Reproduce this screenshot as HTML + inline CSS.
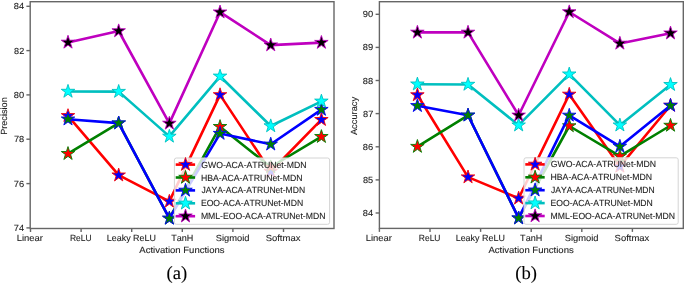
<!DOCTYPE html><html><head><meta charset="utf-8"><style>html,body{margin:0;padding:0;background:#fff;}svg{display:block;will-change:transform;width:685px;height:284px;}text{font-family:"Liberation Sans",sans-serif;font-kerning:none;text-rendering:geometricPrecision;stroke:#222;stroke-width:0.1px;}</style></head><body>
<svg width="685" height="284" viewBox="0 0 685 284">
<rect width="685" height="284" fill="#fff"/>
<clipPath id="c30"><rect x="30.2" y="1.7" width="303.8" height="226.8"/></clipPath>
<g clip-path="url(#c30)">
<polyline points="68.00,115.80 118.68,175.20 169.36,201.40 220.04,94.90 270.72,171.50 321.40,119.70" fill="none" stroke="#ff0000" stroke-width="2.6" stroke-linejoin="round" stroke-linecap="butt"/>
<path d="M68.00,108.70 L66.41,113.61 L61.25,113.61 L65.42,116.64 L63.83,121.54 L68.00,118.51 L72.17,121.54 L70.58,116.64 L74.75,113.61 L69.59,113.61 Z" fill="#0000ff" stroke="#ff0000" stroke-width="0.9" stroke-linejoin="bevel"/>
<path d="M118.68,168.10 L117.09,173.01 L111.93,173.01 L116.10,176.04 L114.51,180.94 L118.68,177.91 L122.85,180.94 L121.26,176.04 L125.43,173.01 L120.27,173.01 Z" fill="#0000ff" stroke="#ff0000" stroke-width="0.9" stroke-linejoin="bevel"/>
<path d="M169.36,194.30 L167.77,199.21 L162.61,199.21 L166.78,202.24 L165.19,207.14 L169.36,204.11 L173.53,207.14 L171.94,202.24 L176.11,199.21 L170.95,199.21 Z" fill="#0000ff" stroke="#ff0000" stroke-width="0.9" stroke-linejoin="bevel"/>
<path d="M220.04,87.80 L218.45,92.71 L213.29,92.71 L217.46,95.74 L215.87,100.64 L220.04,97.61 L224.21,100.64 L222.62,95.74 L226.79,92.71 L221.63,92.71 Z" fill="#0000ff" stroke="#ff0000" stroke-width="0.9" stroke-linejoin="bevel"/>
<path d="M270.72,164.40 L269.13,169.31 L263.97,169.31 L268.14,172.34 L266.55,177.24 L270.72,174.21 L274.89,177.24 L273.30,172.34 L277.47,169.31 L272.31,169.31 Z" fill="#0000ff" stroke="#ff0000" stroke-width="0.9" stroke-linejoin="bevel"/>
<path d="M321.40,112.60 L319.81,117.51 L314.65,117.51 L318.82,120.54 L317.23,125.44 L321.40,122.41 L325.57,125.44 L323.98,120.54 L328.15,117.51 L322.99,117.51 Z" fill="#0000ff" stroke="#ff0000" stroke-width="0.9" stroke-linejoin="bevel"/>
<polyline points="68.00,153.70 118.68,123.10 169.36,218.40 220.04,126.70 270.72,167.00 321.40,136.70" fill="none" stroke="#008000" stroke-width="2.6" stroke-linejoin="round" stroke-linecap="butt"/>
<path d="M68.00,146.60 L66.41,151.51 L61.25,151.51 L65.42,154.54 L63.83,159.44 L68.00,156.41 L72.17,159.44 L70.58,154.54 L74.75,151.51 L69.59,151.51 Z" fill="#ff0000" stroke="#008000" stroke-width="0.9" stroke-linejoin="bevel"/>
<path d="M118.68,116.00 L117.09,120.91 L111.93,120.91 L116.10,123.94 L114.51,128.84 L118.68,125.81 L122.85,128.84 L121.26,123.94 L125.43,120.91 L120.27,120.91 Z" fill="#ff0000" stroke="#008000" stroke-width="0.9" stroke-linejoin="bevel"/>
<path d="M169.36,211.30 L167.77,216.21 L162.61,216.21 L166.78,219.24 L165.19,224.14 L169.36,221.11 L173.53,224.14 L171.94,219.24 L176.11,216.21 L170.95,216.21 Z" fill="#ff0000" stroke="#008000" stroke-width="0.9" stroke-linejoin="bevel"/>
<path d="M220.04,119.60 L218.45,124.51 L213.29,124.51 L217.46,127.54 L215.87,132.44 L220.04,129.41 L224.21,132.44 L222.62,127.54 L226.79,124.51 L221.63,124.51 Z" fill="#ff0000" stroke="#008000" stroke-width="0.9" stroke-linejoin="bevel"/>
<path d="M270.72,159.90 L269.13,164.81 L263.97,164.81 L268.14,167.84 L266.55,172.74 L270.72,169.71 L274.89,172.74 L273.30,167.84 L277.47,164.81 L272.31,164.81 Z" fill="#ff0000" stroke="#008000" stroke-width="0.9" stroke-linejoin="bevel"/>
<path d="M321.40,129.60 L319.81,134.51 L314.65,134.51 L318.82,137.54 L317.23,142.44 L321.40,139.41 L325.57,142.44 L323.98,137.54 L328.15,134.51 L322.99,134.51 Z" fill="#ff0000" stroke="#008000" stroke-width="0.9" stroke-linejoin="bevel"/>
<polyline points="68.00,119.20 118.68,123.10 169.36,218.40 220.04,133.60 270.72,144.30 321.40,109.60" fill="none" stroke="#0000ff" stroke-width="2.6" stroke-linejoin="round" stroke-linecap="butt"/>
<path d="M68.00,112.10 L66.41,117.01 L61.25,117.01 L65.42,120.04 L63.83,124.94 L68.00,121.91 L72.17,124.94 L70.58,120.04 L74.75,117.01 L69.59,117.01 Z" fill="#008000" stroke="#0000ff" stroke-width="0.9" stroke-linejoin="bevel"/>
<path d="M118.68,116.00 L117.09,120.91 L111.93,120.91 L116.10,123.94 L114.51,128.84 L118.68,125.81 L122.85,128.84 L121.26,123.94 L125.43,120.91 L120.27,120.91 Z" fill="#008000" stroke="#0000ff" stroke-width="0.9" stroke-linejoin="bevel"/>
<path d="M169.36,211.30 L167.77,216.21 L162.61,216.21 L166.78,219.24 L165.19,224.14 L169.36,221.11 L173.53,224.14 L171.94,219.24 L176.11,216.21 L170.95,216.21 Z" fill="#008000" stroke="#0000ff" stroke-width="0.9" stroke-linejoin="bevel"/>
<path d="M220.04,126.50 L218.45,131.41 L213.29,131.41 L217.46,134.44 L215.87,139.34 L220.04,136.31 L224.21,139.34 L222.62,134.44 L226.79,131.41 L221.63,131.41 Z" fill="#008000" stroke="#0000ff" stroke-width="0.9" stroke-linejoin="bevel"/>
<path d="M270.72,137.20 L269.13,142.11 L263.97,142.11 L268.14,145.14 L266.55,150.04 L270.72,147.01 L274.89,150.04 L273.30,145.14 L277.47,142.11 L272.31,142.11 Z" fill="#008000" stroke="#0000ff" stroke-width="0.9" stroke-linejoin="bevel"/>
<path d="M321.40,102.50 L319.81,107.41 L314.65,107.41 L318.82,110.44 L317.23,115.34 L321.40,112.31 L325.57,115.34 L323.98,110.44 L328.15,107.41 L322.99,107.41 Z" fill="#008000" stroke="#0000ff" stroke-width="0.9" stroke-linejoin="bevel"/>
<polyline points="68.00,91.50 118.68,91.60 169.36,136.40 220.04,76.30 270.72,126.00 321.40,101.30" fill="none" stroke="#00bfbf" stroke-width="2.6" stroke-linejoin="round" stroke-linecap="butt"/>
<path d="M68.00,84.40 L66.41,89.31 L61.25,89.31 L65.42,92.34 L63.83,97.24 L68.00,94.21 L72.17,97.24 L70.58,92.34 L74.75,89.31 L69.59,89.31 Z" fill="#00ffff" stroke="#00bfbf" stroke-width="0.9" stroke-linejoin="bevel"/>
<path d="M118.68,84.50 L117.09,89.41 L111.93,89.41 L116.10,92.44 L114.51,97.34 L118.68,94.31 L122.85,97.34 L121.26,92.44 L125.43,89.41 L120.27,89.41 Z" fill="#00ffff" stroke="#00bfbf" stroke-width="0.9" stroke-linejoin="bevel"/>
<path d="M169.36,129.30 L167.77,134.21 L162.61,134.21 L166.78,137.24 L165.19,142.14 L169.36,139.11 L173.53,142.14 L171.94,137.24 L176.11,134.21 L170.95,134.21 Z" fill="#00ffff" stroke="#00bfbf" stroke-width="0.9" stroke-linejoin="bevel"/>
<path d="M220.04,69.20 L218.45,74.11 L213.29,74.11 L217.46,77.14 L215.87,82.04 L220.04,79.01 L224.21,82.04 L222.62,77.14 L226.79,74.11 L221.63,74.11 Z" fill="#00ffff" stroke="#00bfbf" stroke-width="0.9" stroke-linejoin="bevel"/>
<path d="M270.72,118.90 L269.13,123.81 L263.97,123.81 L268.14,126.84 L266.55,131.74 L270.72,128.71 L274.89,131.74 L273.30,126.84 L277.47,123.81 L272.31,123.81 Z" fill="#00ffff" stroke="#00bfbf" stroke-width="0.9" stroke-linejoin="bevel"/>
<path d="M321.40,94.20 L319.81,99.11 L314.65,99.11 L318.82,102.14 L317.23,107.04 L321.40,104.01 L325.57,107.04 L323.98,102.14 L328.15,99.11 L322.99,99.11 Z" fill="#00ffff" stroke="#00bfbf" stroke-width="0.9" stroke-linejoin="bevel"/>
<polyline points="68.00,42.40 118.68,31.00 169.36,123.40 220.04,12.20 270.72,45.10 321.40,42.60" fill="none" stroke="#bf00bf" stroke-width="2.6" stroke-linejoin="round" stroke-linecap="butt"/>
<path d="M68.00,35.30 L66.41,40.21 L61.25,40.21 L65.42,43.24 L63.83,48.14 L68.00,45.11 L72.17,48.14 L70.58,43.24 L74.75,40.21 L69.59,40.21 Z" fill="#000000" stroke="#bf00bf" stroke-width="0.9" stroke-linejoin="bevel"/>
<path d="M118.68,23.90 L117.09,28.81 L111.93,28.81 L116.10,31.84 L114.51,36.74 L118.68,33.71 L122.85,36.74 L121.26,31.84 L125.43,28.81 L120.27,28.81 Z" fill="#000000" stroke="#bf00bf" stroke-width="0.9" stroke-linejoin="bevel"/>
<path d="M169.36,116.30 L167.77,121.21 L162.61,121.21 L166.78,124.24 L165.19,129.14 L169.36,126.11 L173.53,129.14 L171.94,124.24 L176.11,121.21 L170.95,121.21 Z" fill="#000000" stroke="#bf00bf" stroke-width="0.9" stroke-linejoin="bevel"/>
<path d="M220.04,5.10 L218.45,10.01 L213.29,10.01 L217.46,13.04 L215.87,17.94 L220.04,14.91 L224.21,17.94 L222.62,13.04 L226.79,10.01 L221.63,10.01 Z" fill="#000000" stroke="#bf00bf" stroke-width="0.9" stroke-linejoin="bevel"/>
<path d="M270.72,38.00 L269.13,42.91 L263.97,42.91 L268.14,45.94 L266.55,50.84 L270.72,47.81 L274.89,50.84 L273.30,45.94 L277.47,42.91 L272.31,42.91 Z" fill="#000000" stroke="#bf00bf" stroke-width="0.9" stroke-linejoin="bevel"/>
<path d="M321.40,35.50 L319.81,40.41 L314.65,40.41 L318.82,43.44 L317.23,48.34 L321.40,45.31 L325.57,48.34 L323.98,43.44 L328.15,40.41 L322.99,40.41 Z" fill="#000000" stroke="#bf00bf" stroke-width="0.9" stroke-linejoin="bevel"/>
</g>
<rect x="174.4" y="158.0" width="155.20000000000002" height="66.30000000000001" rx="2" ry="2" fill="#fff" fill-opacity="0.8" stroke="#d4d4d4" stroke-width="1"/>
<line x1="175.70000000000002" y1="164.60" x2="195.10000000000002" y2="164.60" stroke="#ff0000" stroke-width="2.6"/>
<path d="M185.50,157.50 L183.91,162.41 L178.75,162.41 L182.92,165.44 L181.33,170.34 L185.50,167.31 L189.67,170.34 L188.08,165.44 L192.25,162.41 L187.09,162.41 Z" fill="#0000ff" stroke="#ff0000" stroke-width="0.9" stroke-linejoin="bevel"/>
<text x="201.16" y="167.60" font-size="8.9" textLength="105.33" lengthAdjust="spacingAndGlyphs" fill="#222" >GWO-ACA-ATRUNet-MDN</text>
<line x1="175.70000000000002" y1="177.50" x2="195.10000000000002" y2="177.50" stroke="#008000" stroke-width="2.6"/>
<path d="M185.50,170.40 L183.91,175.31 L178.75,175.31 L182.92,178.34 L181.33,183.24 L185.50,180.21 L189.67,183.24 L188.08,178.34 L192.25,175.31 L187.09,175.31 Z" fill="#ff0000" stroke="#008000" stroke-width="0.9" stroke-linejoin="bevel"/>
<text x="200.89" y="180.50" font-size="8.9" textLength="101.66" lengthAdjust="spacingAndGlyphs" fill="#222" >HBA-ACA-ATRUNet-MDN</text>
<line x1="175.70000000000002" y1="190.40" x2="195.10000000000002" y2="190.40" stroke="#0000ff" stroke-width="2.6"/>
<path d="M185.50,183.30 L183.91,188.21 L178.75,188.21 L182.92,191.24 L181.33,196.14 L185.50,193.11 L189.67,196.14 L188.08,191.24 L192.25,188.21 L187.09,188.21 Z" fill="#008000" stroke="#0000ff" stroke-width="0.9" stroke-linejoin="bevel"/>
<text x="201.47" y="193.40" font-size="8.9" textLength="103.60" lengthAdjust="spacingAndGlyphs" fill="#222" >JAYA-ACA-ATRUNet-MDN</text>
<line x1="175.70000000000002" y1="203.30" x2="195.10000000000002" y2="203.30" stroke="#00bfbf" stroke-width="2.6"/>
<path d="M185.50,196.20 L183.91,201.11 L178.75,201.11 L182.92,204.14 L181.33,209.04 L185.50,206.01 L189.67,209.04 L188.08,204.14 L192.25,201.11 L187.09,201.11 Z" fill="#00ffff" stroke="#00bfbf" stroke-width="0.9" stroke-linejoin="bevel"/>
<text x="200.89" y="206.30" font-size="8.9" textLength="102.35" lengthAdjust="spacingAndGlyphs" fill="#222" >EOO-ACA-ATRUNet-MDN</text>
<line x1="175.70000000000002" y1="216.20" x2="195.10000000000002" y2="216.20" stroke="#bf00bf" stroke-width="2.6"/>
<path d="M185.50,209.10 L183.91,214.01 L178.75,214.01 L182.92,217.04 L181.33,221.94 L185.50,218.91 L189.67,221.94 L188.08,217.04 L192.25,214.01 L187.09,214.01 Z" fill="#000000" stroke="#bf00bf" stroke-width="0.9" stroke-linejoin="bevel"/>
<text x="200.89" y="219.20" font-size="8.9" textLength="124.56" lengthAdjust="spacingAndGlyphs" fill="#222" >MML-EOO-ACA-ATRUNet-MDN</text>
<rect x="30.2" y="1.7" width="303.8" height="226.8" fill="none" stroke="#666" stroke-width="1.4"/>
<line x1="26.4" y1="6.3" x2="30.2" y2="6.3" stroke="#666" stroke-width="1.4"/>
<text x="13.75" y="9.30" font-size="8.9" textLength="10.32" lengthAdjust="spacingAndGlyphs" fill="#222" >84</text>
<line x1="26.4" y1="50.6" x2="30.2" y2="50.6" stroke="#666" stroke-width="1.4"/>
<text x="14.13" y="53.60" font-size="8.9" textLength="10.13" lengthAdjust="spacingAndGlyphs" fill="#222" >82</text>
<line x1="26.4" y1="94.9" x2="30.2" y2="94.9" stroke="#666" stroke-width="1.4"/>
<text x="13.84" y="97.90" font-size="8.9" textLength="10.33" lengthAdjust="spacingAndGlyphs" fill="#222" >80</text>
<line x1="26.4" y1="139.2" x2="30.2" y2="139.2" stroke="#666" stroke-width="1.4"/>
<text x="13.90" y="142.20" font-size="8.9" textLength="10.30" lengthAdjust="spacingAndGlyphs" fill="#222" >78</text>
<line x1="26.4" y1="183.6" x2="30.2" y2="183.6" stroke="#666" stroke-width="1.4"/>
<text x="13.85" y="186.60" font-size="8.9" textLength="10.36" lengthAdjust="spacingAndGlyphs" fill="#222" >76</text>
<line x1="26.4" y1="227.9" x2="30.2" y2="227.9" stroke="#666" stroke-width="1.4"/>
<text x="13.80" y="230.90" font-size="8.9" textLength="10.27" lengthAdjust="spacingAndGlyphs" fill="#222" >74</text>
<line x1="30.50" y1="228.5" x2="30.50" y2="232.0" stroke="#666" stroke-width="1.4"/>
<text x="16.79" y="241.10" font-size="8.9" textLength="26.21" lengthAdjust="spacingAndGlyphs" fill="#222" >Linear</text>
<line x1="81.10" y1="228.5" x2="81.10" y2="232.0" stroke="#666" stroke-width="1.4"/>
<text x="69.97" y="241.10" font-size="8.9" textLength="21.62" lengthAdjust="spacingAndGlyphs" fill="#222" >ReLU</text>
<line x1="131.70" y1="228.5" x2="131.70" y2="232.0" stroke="#666" stroke-width="1.4"/>
<text x="106.78" y="241.10" font-size="8.9" textLength="49.20" lengthAdjust="spacingAndGlyphs" fill="#222" >Leaky ReLU</text>
<line x1="182.30" y1="228.5" x2="182.30" y2="232.0" stroke="#666" stroke-width="1.4"/>
<text x="171.24" y="241.10" font-size="8.9" textLength="22.06" lengthAdjust="spacingAndGlyphs" fill="#222" >TanH</text>
<line x1="232.90" y1="228.5" x2="232.90" y2="232.0" stroke="#666" stroke-width="1.4"/>
<text x="215.84" y="241.10" font-size="8.9" textLength="33.69" lengthAdjust="spacingAndGlyphs" fill="#222" >Sigmoid</text>
<line x1="283.50" y1="228.5" x2="283.50" y2="232.0" stroke="#666" stroke-width="1.4"/>
<text x="265.67" y="241.10" font-size="8.9" textLength="34.73" lengthAdjust="spacingAndGlyphs" fill="#222" >Softmax</text>
<text x="139.30" y="252.90" font-size="8.9" textLength="85.32" lengthAdjust="spacingAndGlyphs" fill="#222" >Activation Functions</text>
<text transform="translate(7.40,116.00) rotate(-90)" x="-18.89" y="0" font-size="8.9" textLength="37.62" lengthAdjust="spacingAndGlyphs" fill="#222" >Precision</text>
<text x="176.8" y="279.2" font-size="18.6" fill="#000" text-anchor="middle" style="font-family:'Liberation Serif',serif">(a)</text>
<clipPath id="c379"><rect x="379.4" y="1.7" width="303.9" height="226.70000000000002"/></clipPath>
<g clip-path="url(#c379)">
<polyline points="417.40,95.00 468.02,177.10 518.64,198.30 569.26,94.40 619.88,166.40 670.50,105.50" fill="none" stroke="#ff0000" stroke-width="2.6" stroke-linejoin="round" stroke-linecap="butt"/>
<path d="M417.40,87.90 L415.81,92.81 L410.65,92.81 L414.82,95.84 L413.23,100.74 L417.40,97.71 L421.57,100.74 L419.98,95.84 L424.15,92.81 L418.99,92.81 Z" fill="#0000ff" stroke="#ff0000" stroke-width="0.9" stroke-linejoin="bevel"/>
<path d="M468.02,170.00 L466.43,174.91 L461.27,174.91 L465.44,177.94 L463.85,182.84 L468.02,179.81 L472.19,182.84 L470.60,177.94 L474.77,174.91 L469.61,174.91 Z" fill="#0000ff" stroke="#ff0000" stroke-width="0.9" stroke-linejoin="bevel"/>
<path d="M518.64,191.20 L517.05,196.11 L511.89,196.11 L516.06,199.14 L514.47,204.04 L518.64,201.01 L522.81,204.04 L521.22,199.14 L525.39,196.11 L520.23,196.11 Z" fill="#0000ff" stroke="#ff0000" stroke-width="0.9" stroke-linejoin="bevel"/>
<path d="M569.26,87.30 L567.67,92.21 L562.51,92.21 L566.68,95.24 L565.09,100.14 L569.26,97.11 L573.43,100.14 L571.84,95.24 L576.01,92.21 L570.85,92.21 Z" fill="#0000ff" stroke="#ff0000" stroke-width="0.9" stroke-linejoin="bevel"/>
<path d="M619.88,159.30 L618.29,164.21 L613.13,164.21 L617.30,167.24 L615.71,172.14 L619.88,169.11 L624.05,172.14 L622.46,167.24 L626.63,164.21 L621.47,164.21 Z" fill="#0000ff" stroke="#ff0000" stroke-width="0.9" stroke-linejoin="bevel"/>
<path d="M670.50,98.40 L668.91,103.31 L663.75,103.31 L667.92,106.34 L666.33,111.24 L670.50,108.21 L674.67,111.24 L673.08,106.34 L677.25,103.31 L672.09,103.31 Z" fill="#0000ff" stroke="#ff0000" stroke-width="0.9" stroke-linejoin="bevel"/>
<polyline points="417.40,146.60 468.02,115.30 518.64,218.10 569.26,126.00 619.88,156.10 670.50,125.50" fill="none" stroke="#008000" stroke-width="2.6" stroke-linejoin="round" stroke-linecap="butt"/>
<path d="M417.40,139.50 L415.81,144.41 L410.65,144.41 L414.82,147.44 L413.23,152.34 L417.40,149.31 L421.57,152.34 L419.98,147.44 L424.15,144.41 L418.99,144.41 Z" fill="#ff0000" stroke="#008000" stroke-width="0.9" stroke-linejoin="bevel"/>
<path d="M468.02,108.20 L466.43,113.11 L461.27,113.11 L465.44,116.14 L463.85,121.04 L468.02,118.01 L472.19,121.04 L470.60,116.14 L474.77,113.11 L469.61,113.11 Z" fill="#ff0000" stroke="#008000" stroke-width="0.9" stroke-linejoin="bevel"/>
<path d="M518.64,211.00 L517.05,215.91 L511.89,215.91 L516.06,218.94 L514.47,223.84 L518.64,220.81 L522.81,223.84 L521.22,218.94 L525.39,215.91 L520.23,215.91 Z" fill="#ff0000" stroke="#008000" stroke-width="0.9" stroke-linejoin="bevel"/>
<path d="M569.26,118.90 L567.67,123.81 L562.51,123.81 L566.68,126.84 L565.09,131.74 L569.26,128.71 L573.43,131.74 L571.84,126.84 L576.01,123.81 L570.85,123.81 Z" fill="#ff0000" stroke="#008000" stroke-width="0.9" stroke-linejoin="bevel"/>
<path d="M619.88,149.00 L618.29,153.91 L613.13,153.91 L617.30,156.94 L615.71,161.84 L619.88,158.81 L624.05,161.84 L622.46,156.94 L626.63,153.91 L621.47,153.91 Z" fill="#ff0000" stroke="#008000" stroke-width="0.9" stroke-linejoin="bevel"/>
<path d="M670.50,118.40 L668.91,123.31 L663.75,123.31 L667.92,126.34 L666.33,131.24 L670.50,128.21 L674.67,131.24 L673.08,126.34 L677.25,123.31 L672.09,123.31 Z" fill="#ff0000" stroke="#008000" stroke-width="0.9" stroke-linejoin="bevel"/>
<polyline points="417.40,105.80 468.02,115.30 518.64,218.10 569.26,115.40 619.88,146.40 670.50,105.50" fill="none" stroke="#0000ff" stroke-width="2.6" stroke-linejoin="round" stroke-linecap="butt"/>
<path d="M417.40,98.70 L415.81,103.61 L410.65,103.61 L414.82,106.64 L413.23,111.54 L417.40,108.51 L421.57,111.54 L419.98,106.64 L424.15,103.61 L418.99,103.61 Z" fill="#008000" stroke="#0000ff" stroke-width="0.9" stroke-linejoin="bevel"/>
<path d="M468.02,108.20 L466.43,113.11 L461.27,113.11 L465.44,116.14 L463.85,121.04 L468.02,118.01 L472.19,121.04 L470.60,116.14 L474.77,113.11 L469.61,113.11 Z" fill="#008000" stroke="#0000ff" stroke-width="0.9" stroke-linejoin="bevel"/>
<path d="M518.64,211.00 L517.05,215.91 L511.89,215.91 L516.06,218.94 L514.47,223.84 L518.64,220.81 L522.81,223.84 L521.22,218.94 L525.39,215.91 L520.23,215.91 Z" fill="#008000" stroke="#0000ff" stroke-width="0.9" stroke-linejoin="bevel"/>
<path d="M569.26,108.30 L567.67,113.21 L562.51,113.21 L566.68,116.24 L565.09,121.14 L569.26,118.11 L573.43,121.14 L571.84,116.24 L576.01,113.21 L570.85,113.21 Z" fill="#008000" stroke="#0000ff" stroke-width="0.9" stroke-linejoin="bevel"/>
<path d="M619.88,139.30 L618.29,144.21 L613.13,144.21 L617.30,147.24 L615.71,152.14 L619.88,149.11 L624.05,152.14 L622.46,147.24 L626.63,144.21 L621.47,144.21 Z" fill="#008000" stroke="#0000ff" stroke-width="0.9" stroke-linejoin="bevel"/>
<path d="M670.50,98.40 L668.91,103.31 L663.75,103.31 L667.92,106.34 L666.33,111.24 L670.50,108.21 L674.67,111.24 L673.08,106.34 L677.25,103.31 L672.09,103.31 Z" fill="#008000" stroke="#0000ff" stroke-width="0.9" stroke-linejoin="bevel"/>
<polyline points="417.40,84.20 468.02,84.50 518.64,125.20 569.26,74.20 619.88,125.20 670.50,84.70" fill="none" stroke="#00bfbf" stroke-width="2.6" stroke-linejoin="round" stroke-linecap="butt"/>
<path d="M417.40,77.10 L415.81,82.01 L410.65,82.01 L414.82,85.04 L413.23,89.94 L417.40,86.91 L421.57,89.94 L419.98,85.04 L424.15,82.01 L418.99,82.01 Z" fill="#00ffff" stroke="#00bfbf" stroke-width="0.9" stroke-linejoin="bevel"/>
<path d="M468.02,77.40 L466.43,82.31 L461.27,82.31 L465.44,85.34 L463.85,90.24 L468.02,87.21 L472.19,90.24 L470.60,85.34 L474.77,82.31 L469.61,82.31 Z" fill="#00ffff" stroke="#00bfbf" stroke-width="0.9" stroke-linejoin="bevel"/>
<path d="M518.64,118.10 L517.05,123.01 L511.89,123.01 L516.06,126.04 L514.47,130.94 L518.64,127.91 L522.81,130.94 L521.22,126.04 L525.39,123.01 L520.23,123.01 Z" fill="#00ffff" stroke="#00bfbf" stroke-width="0.9" stroke-linejoin="bevel"/>
<path d="M569.26,67.10 L567.67,72.01 L562.51,72.01 L566.68,75.04 L565.09,79.94 L569.26,76.91 L573.43,79.94 L571.84,75.04 L576.01,72.01 L570.85,72.01 Z" fill="#00ffff" stroke="#00bfbf" stroke-width="0.9" stroke-linejoin="bevel"/>
<path d="M619.88,118.10 L618.29,123.01 L613.13,123.01 L617.30,126.04 L615.71,130.94 L619.88,127.91 L624.05,130.94 L622.46,126.04 L626.63,123.01 L621.47,123.01 Z" fill="#00ffff" stroke="#00bfbf" stroke-width="0.9" stroke-linejoin="bevel"/>
<path d="M670.50,77.60 L668.91,82.51 L663.75,82.51 L667.92,85.54 L666.33,90.44 L670.50,87.41 L674.67,90.44 L673.08,85.54 L677.25,82.51 L672.09,82.51 Z" fill="#00ffff" stroke="#00bfbf" stroke-width="0.9" stroke-linejoin="bevel"/>
<polyline points="417.40,32.40 468.02,32.40 518.64,115.30 569.26,12.00 619.88,43.40 670.50,33.20" fill="none" stroke="#bf00bf" stroke-width="2.6" stroke-linejoin="round" stroke-linecap="butt"/>
<path d="M417.40,25.30 L415.81,30.21 L410.65,30.21 L414.82,33.24 L413.23,38.14 L417.40,35.11 L421.57,38.14 L419.98,33.24 L424.15,30.21 L418.99,30.21 Z" fill="#000000" stroke="#bf00bf" stroke-width="0.9" stroke-linejoin="bevel"/>
<path d="M468.02,25.30 L466.43,30.21 L461.27,30.21 L465.44,33.24 L463.85,38.14 L468.02,35.11 L472.19,38.14 L470.60,33.24 L474.77,30.21 L469.61,30.21 Z" fill="#000000" stroke="#bf00bf" stroke-width="0.9" stroke-linejoin="bevel"/>
<path d="M518.64,108.20 L517.05,113.11 L511.89,113.11 L516.06,116.14 L514.47,121.04 L518.64,118.01 L522.81,121.04 L521.22,116.14 L525.39,113.11 L520.23,113.11 Z" fill="#000000" stroke="#bf00bf" stroke-width="0.9" stroke-linejoin="bevel"/>
<path d="M569.26,4.90 L567.67,9.81 L562.51,9.81 L566.68,12.84 L565.09,17.74 L569.26,14.71 L573.43,17.74 L571.84,12.84 L576.01,9.81 L570.85,9.81 Z" fill="#000000" stroke="#bf00bf" stroke-width="0.9" stroke-linejoin="bevel"/>
<path d="M619.88,36.30 L618.29,41.21 L613.13,41.21 L617.30,44.24 L615.71,49.14 L619.88,46.11 L624.05,49.14 L622.46,44.24 L626.63,41.21 L621.47,41.21 Z" fill="#000000" stroke="#bf00bf" stroke-width="0.9" stroke-linejoin="bevel"/>
<path d="M670.50,26.10 L668.91,31.01 L663.75,31.01 L667.92,34.04 L666.33,38.94 L670.50,35.91 L674.67,38.94 L673.08,34.04 L677.25,31.01 L672.09,31.01 Z" fill="#000000" stroke="#bf00bf" stroke-width="0.9" stroke-linejoin="bevel"/>
</g>
<rect x="524.0" y="157.8" width="154.20000000000005" height="66.5" rx="2" ry="2" fill="#fff" fill-opacity="0.8" stroke="#d4d4d4" stroke-width="1"/>
<line x1="525.3" y1="164.40" x2="544.6999999999999" y2="164.40" stroke="#ff0000" stroke-width="2.6"/>
<path d="M535.10,157.30 L533.51,162.21 L528.35,162.21 L532.52,165.24 L530.93,170.14 L535.10,167.11 L539.27,170.14 L537.68,165.24 L541.85,162.21 L536.69,162.21 Z" fill="#0000ff" stroke="#ff0000" stroke-width="0.9" stroke-linejoin="bevel"/>
<text x="550.76" y="167.40" font-size="8.9" textLength="105.33" lengthAdjust="spacingAndGlyphs" fill="#222" >GWO-ACA-ATRUNet-MDN</text>
<line x1="525.3" y1="177.30" x2="544.6999999999999" y2="177.30" stroke="#008000" stroke-width="2.6"/>
<path d="M535.10,170.20 L533.51,175.11 L528.35,175.11 L532.52,178.14 L530.93,183.04 L535.10,180.01 L539.27,183.04 L537.68,178.14 L541.85,175.11 L536.69,175.11 Z" fill="#ff0000" stroke="#008000" stroke-width="0.9" stroke-linejoin="bevel"/>
<text x="550.49" y="180.30" font-size="8.9" textLength="101.66" lengthAdjust="spacingAndGlyphs" fill="#222" >HBA-ACA-ATRUNet-MDN</text>
<line x1="525.3" y1="190.20" x2="544.6999999999999" y2="190.20" stroke="#0000ff" stroke-width="2.6"/>
<path d="M535.10,183.10 L533.51,188.01 L528.35,188.01 L532.52,191.04 L530.93,195.94 L535.10,192.91 L539.27,195.94 L537.68,191.04 L541.85,188.01 L536.69,188.01 Z" fill="#008000" stroke="#0000ff" stroke-width="0.9" stroke-linejoin="bevel"/>
<text x="551.07" y="193.20" font-size="8.9" textLength="103.60" lengthAdjust="spacingAndGlyphs" fill="#222" >JAYA-ACA-ATRUNet-MDN</text>
<line x1="525.3" y1="203.10" x2="544.6999999999999" y2="203.10" stroke="#00bfbf" stroke-width="2.6"/>
<path d="M535.10,196.00 L533.51,200.91 L528.35,200.91 L532.52,203.94 L530.93,208.84 L535.10,205.81 L539.27,208.84 L537.68,203.94 L541.85,200.91 L536.69,200.91 Z" fill="#00ffff" stroke="#00bfbf" stroke-width="0.9" stroke-linejoin="bevel"/>
<text x="550.49" y="206.10" font-size="8.9" textLength="102.35" lengthAdjust="spacingAndGlyphs" fill="#222" >EOO-ACA-ATRUNet-MDN</text>
<line x1="525.3" y1="216.00" x2="544.6999999999999" y2="216.00" stroke="#bf00bf" stroke-width="2.6"/>
<path d="M535.10,208.90 L533.51,213.81 L528.35,213.81 L532.52,216.84 L530.93,221.74 L535.10,218.71 L539.27,221.74 L537.68,216.84 L541.85,213.81 L536.69,213.81 Z" fill="#000000" stroke="#bf00bf" stroke-width="0.9" stroke-linejoin="bevel"/>
<text x="550.49" y="219.00" font-size="8.9" textLength="124.56" lengthAdjust="spacingAndGlyphs" fill="#222" >MML-EOO-ACA-ATRUNet-MDN</text>
<rect x="379.4" y="1.7" width="303.9" height="226.70000000000002" fill="none" stroke="#666" stroke-width="1.4"/>
<line x1="375.59999999999997" y1="14.3" x2="379.4" y2="14.3" stroke="#666" stroke-width="1.4"/>
<text x="362.76" y="17.30" font-size="8.9" textLength="10.41" lengthAdjust="spacingAndGlyphs" fill="#222" >90</text>
<line x1="375.59999999999997" y1="47.4" x2="379.4" y2="47.4" stroke="#666" stroke-width="1.4"/>
<text x="362.87" y="50.40" font-size="8.9" textLength="10.38" lengthAdjust="spacingAndGlyphs" fill="#222" >89</text>
<line x1="375.59999999999997" y1="80.5" x2="379.4" y2="80.5" stroke="#666" stroke-width="1.4"/>
<text x="362.85" y="83.50" font-size="8.9" textLength="10.35" lengthAdjust="spacingAndGlyphs" fill="#222" >88</text>
<line x1="375.59999999999997" y1="113.6" x2="379.4" y2="113.6" stroke="#666" stroke-width="1.4"/>
<text x="363.00" y="116.60" font-size="8.9" textLength="10.27" lengthAdjust="spacingAndGlyphs" fill="#222" >87</text>
<line x1="375.59999999999997" y1="146.8" x2="379.4" y2="146.8" stroke="#666" stroke-width="1.4"/>
<text x="362.80" y="149.80" font-size="8.9" textLength="10.41" lengthAdjust="spacingAndGlyphs" fill="#222" >86</text>
<line x1="375.59999999999997" y1="179.9" x2="379.4" y2="179.9" stroke="#666" stroke-width="1.4"/>
<text x="363.02" y="182.90" font-size="8.9" textLength="10.17" lengthAdjust="spacingAndGlyphs" fill="#222" >85</text>
<line x1="375.59999999999997" y1="213.0" x2="379.4" y2="213.0" stroke="#666" stroke-width="1.4"/>
<text x="362.75" y="216.00" font-size="8.9" textLength="10.32" lengthAdjust="spacingAndGlyphs" fill="#222" >84</text>
<line x1="379.40" y1="228.4" x2="379.40" y2="231.9" stroke="#666" stroke-width="1.4"/>
<text x="365.69" y="241.00" font-size="8.9" textLength="26.21" lengthAdjust="spacingAndGlyphs" fill="#222" >Linear</text>
<line x1="430.00" y1="228.4" x2="430.00" y2="231.9" stroke="#666" stroke-width="1.4"/>
<text x="418.87" y="241.00" font-size="8.9" textLength="21.62" lengthAdjust="spacingAndGlyphs" fill="#222" >ReLU</text>
<line x1="480.60" y1="228.4" x2="480.60" y2="231.9" stroke="#666" stroke-width="1.4"/>
<text x="455.68" y="241.00" font-size="8.9" textLength="49.20" lengthAdjust="spacingAndGlyphs" fill="#222" >Leaky ReLU</text>
<line x1="531.20" y1="228.4" x2="531.20" y2="231.9" stroke="#666" stroke-width="1.4"/>
<text x="520.14" y="241.00" font-size="8.9" textLength="22.06" lengthAdjust="spacingAndGlyphs" fill="#222" >TanH</text>
<line x1="581.80" y1="228.4" x2="581.80" y2="231.9" stroke="#666" stroke-width="1.4"/>
<text x="564.74" y="241.00" font-size="8.9" textLength="33.69" lengthAdjust="spacingAndGlyphs" fill="#222" >Sigmoid</text>
<line x1="632.40" y1="228.4" x2="632.40" y2="231.9" stroke="#666" stroke-width="1.4"/>
<text x="614.57" y="241.00" font-size="8.9" textLength="34.73" lengthAdjust="spacingAndGlyphs" fill="#222" >Softmax</text>
<text x="488.40" y="252.90" font-size="8.9" textLength="85.32" lengthAdjust="spacingAndGlyphs" fill="#222" >Activation Functions</text>
<text transform="translate(356.80,116.00) rotate(-90)" x="-19.11" y="0" font-size="8.9" textLength="38.22" lengthAdjust="spacingAndGlyphs" fill="#222" >Accuracy</text>
<text x="526.2" y="279.2" font-size="18.6" fill="#000" text-anchor="middle" style="font-family:'Liberation Serif',serif">(b)</text>
</svg></body></html>
